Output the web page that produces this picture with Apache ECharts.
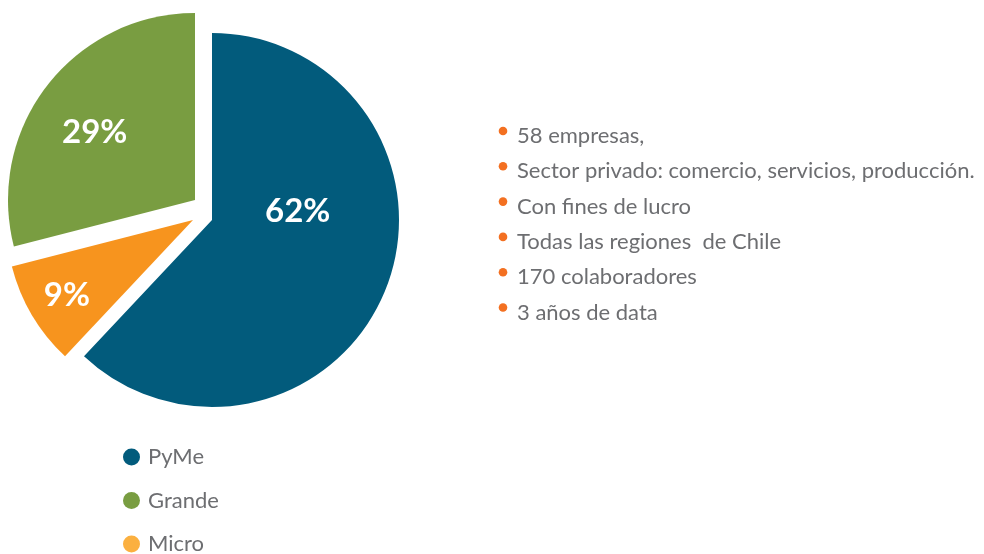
<!DOCTYPE html>
<html>
<head>
<meta charset="utf-8">
<script src="https://cdn.jsdelivr.net/npm/echarts@6/dist/echarts.min.js"></script>
<style>html,body{margin:0;padding:0;background:#fff}#c{width:984px;height:554px}</style>
</head>
<body>
<div id="c"></div>
<script>
// ---- data ----
const categories = ['PyMe', 'Micro', 'Grande'];
const values = [62, 9, 29];
const legendOrder = ['PyMe', 'Grande', 'Micro'];
const notes = [
  '58 empresas,',
  'Sector privado: comercio, servicios, producción.',
  'Con fines de lucro',
  'Todas las regiones  de Chile',
  '170 colaboradores',
  '3 años de data'
];

// ---- styles / layout ----
const sliceColors = {PyMe: '#025B7C', Micro: '#F7941E', Grande: '#799D41'};
const legendColors = {PyMe: '#025B7C', Grande: '#799D41', Micro: '#FBB040'};
const sliceCenters = {PyMe: [212, 220], Micro: [193, 220], Grande: [195, 200]};
const labelShift = {PyMe: [-4, -44], Micro: [-43, 26], Grande: [-24, -8]};
const FONT = 'Lato, "Open Sans", sans-serif';
const textGray = '#6D6E71';

const chart = echarts.init(document.getElementById('c'));

const series = categories.map(function (shown) {
  return {
    type: 'pie',
    radius: 187,
    center: sliceCenters[shown],
    startAngle: 90,
    clockwise: true,
    silent: true,
    animation: false,
    avoidLabelOverlap: false,
    labelLine: {show: false},
    emphasis: {disabled: true},
    labelLayout: function () {
      return {dx: labelShift[shown][0], dy: labelShift[shown][1]};
    },
    data: categories.map(function (name, i) {
      const vis = name === shown;
      return {
        name: name,
        value: values[i],
        itemStyle: {color: vis ? sliceColors[name] : 'rgba(0,0,0,0)'},
        label: {
          show: vis,
          position: 'inside',
          formatter: '{c}%',
          color: '#ffffff',
          fontSize: 33,
          fontWeight: 'bold',
          fontFamily: FONT
        }
      };
    })
  };
});

const graphic = [];
notes.forEach(function (t, i) {
  const y = 136 + i * 35.3;
  graphic.push({
    type: 'circle', silent: true,
    shape: {cx: 503, cy: y - 5, r: 4.3},
    style: {fill: '#F37021'}
  });
  graphic.push({
    type: 'text', silent: true, x: 517, y: y,
    style: {text: t, fill: textGray, font: '22px ' + FONT, textVerticalAlign: 'middle', textAlign: 'left'}
  });
});

const legends = legendOrder.map(function (n, i) {
  return {
    orient: 'vertical',
    left: 123,
    top: 446 + i * 43.5,
    padding: 0,
    icon: 'circle',
    itemWidth: 17,
    itemHeight: 17,
    selectedMode: false,
    textStyle: {fontSize: 22, lineHeight: 17, color: textGray, fontFamily: FONT, padding: [0, 0, 0, 3]},
    data: [{name: n, itemStyle: {color: legendColors[n]}}]
  };
});

chart.setOption({
  animation: false,
  legend: legends,
  graphic: graphic,
  series: series
});
</script>
</body>
</html>
